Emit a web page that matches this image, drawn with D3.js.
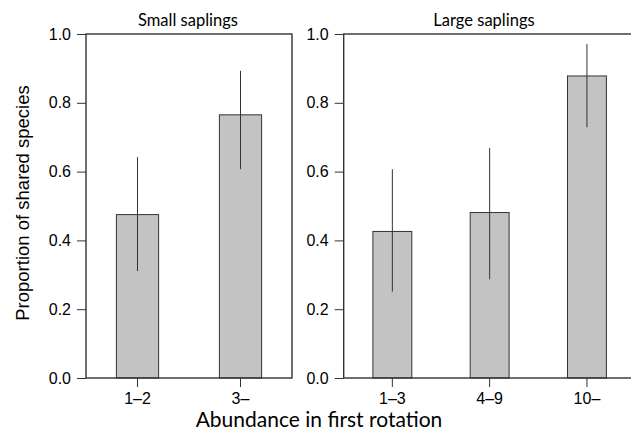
<!DOCTYPE html>
<html><head><meta charset="utf-8">
<script src="https://cdn.jsdelivr.net/npm/d3@7"></script>
<style>body{margin:0;background:#fff}svg{display:block}</style>
</head><body>
<svg id="c" width="631" height="434"></svg>
<script>
const smallCats = ["1\u20132", "3\u2013"];
const smallVals = [0.475, 0.765];
const smallLo = [0.311, 0.607];
const smallHi = [0.642, 0.893];
const largeCats = ["1\u20133", "4\u20139", "10\u2013"];
const largeVals = [0.426, 0.481, 0.878];
const largeLo = [0.251, 0.287, 0.729];
const largeHi = [0.607, 0.669, 0.971];
const yTicks = [0, 0.2, 0.4, 0.6, 0.8, 1.0];

const svg = d3.select("#c");
const ink = "#333";
const tickFont = "'Liberation Sans', Arial, sans-serif";
const y = d3.scaleLinear().domain([0, 1]).range([378, 34]);

function panel(x0, x1, cats, vals, lo, hi, title, titleX, barFrac) {
  const g = svg.append("g");
  const x = d3.scaleBand().domain(cats).range([x0, x1]).paddingInner(0).paddingOuter(0);
  const bw = x.bandwidth() * barFrac;
  g.selectAll("rect.bar").data(cats).join("rect")
    .attr("x", (d) => x(d) + x.bandwidth() / 2 - bw / 2)
    .attr("y", (d, i) => y(vals[i]))
    .attr("width", bw)
    .attr("height", (d, i) => y(0) - y(vals[i]))
    .attr("fill", "#c3c3c3").attr("stroke", ink).attr("stroke-width", 1);
  g.selectAll("line.err").data(cats).join("line")
    .attr("x1", (d) => x(d) + x.bandwidth() / 2).attr("x2", (d) => x(d) + x.bandwidth() / 2)
    .attr("y1", (d, i) => y(lo[i])).attr("y2", (d, i) => y(hi[i]))
    .attr("stroke", ink).attr("stroke-width", 1);
  g.append("rect").attr("x", x0).attr("y", y(1)).attr("width", x1 - x0).attr("height", y(0) - y(1))
    .attr("fill", "none").attr("stroke", ink).attr("stroke-width", 1.4);
  const ya = d3.axisLeft(y).tickValues(yTicks).tickFormat(d3.format(".1f")).tickSize(9).tickPadding(6);
  const yg = g.append("g").attr("transform", `translate(${x0},0)`).call(ya);
  yg.select(".domain").remove();
  yg.selectAll("line").attr("stroke", ink);
  yg.selectAll("text").style("font-family", tickFont).style("font-size", "16px").attr("fill", "#000");
  const xa = d3.axisBottom(x).tickSize(9).tickPadding(6);
  const xg = g.append("g").attr("transform", `translate(0,${y(0)})`).call(xa);
  xg.select(".domain").remove();
  xg.selectAll("line").attr("stroke", ink);
  xg.selectAll("text").style("font-family", tickFont).style("font-size", "16px").attr("fill", "#000");
  g.append("text").attr("x", titleX).attr("y", 26)
    .attr("text-anchor", "middle").style("font-family", "Lato, 'Open Sans', sans-serif")
    .style("font-size", "16.5px").attr("fill", "#000").text(title);
}

panel(86, 292, smallCats, smallVals, smallLo, smallHi, "Small saplings", 188, 0.41);
panel(343.7, 635.6, largeCats, largeVals, largeLo, largeHi, "Large saplings", 484, 0.40);

svg.append("text").attr("transform", "translate(29,203) rotate(-90)")
  .attr("text-anchor", "middle").style("font-family", tickFont)
  .style("font-size", "18.5px").attr("fill", "#000").text("Proportion of shared species");

svg.append("text").attr("x", 319).attr("y", 427)
  .attr("text-anchor", "middle").style("font-family", "Lato, 'Open Sans', sans-serif")
  .style("font-size", "21px").attr("fill", "#000").text("Abundance in first rotation");
</script>
</body></html>
